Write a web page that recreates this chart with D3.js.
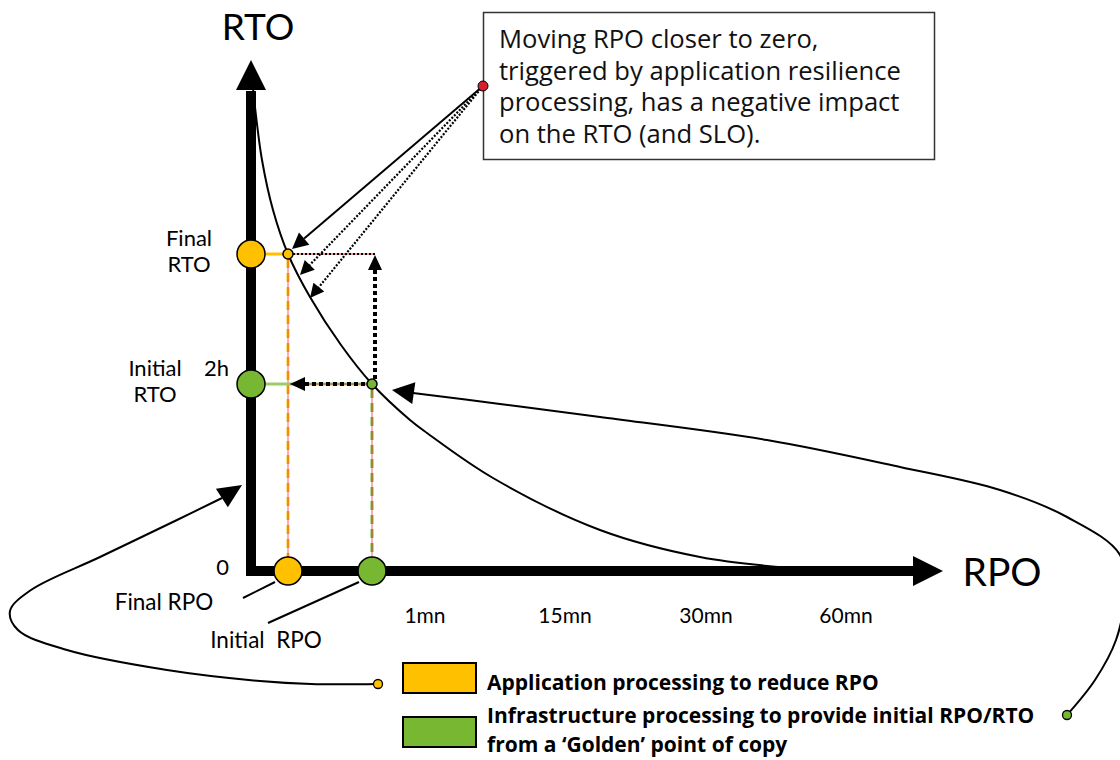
<!DOCTYPE html>
<html><head><meta charset="utf-8">
<script src="https://cdn.jsdelivr.net/npm/d3@7"></script>
<style>body{margin:0;background:#fff} svg{display:block}</style>
</head><body><svg id="c" width="1120" height="760"></svg>
<script>
// ---------- data ----------
const rpoTickLabels = ["1mn", "15mn", "30mn", "60mn"];
const rpoTickPos    = [174, 314, 455, 595];
const rtoTickLabels = ["0", "2h"];
const rtoTickPos    = [0, 187];
const stateNames    = ["Final", "Initial"];
const stateRPO      = [37, 121];
const stateRTO      = [317, 187];
const stateColors   = ["#FFC000", "#77B731"];
const curveX = [2, 4, 11, 22, 37, 59, 90, 121, 159, 176, 242, 349, 449, 539, 580];
const curveY = [483, 464, 411, 361, 317, 274, 226, 187, 151, 138, 93, 41, 14, 3, 1];
const legendLabels = ["Application processing to reduce RPO",
  "Infrastructure processing to provide initial RPO/RTO|from a \u2018Golden\u2019 point of copy"];
const noteLines = ["Moving RPO closer to zero,", "triggered by application resilience",
  "processing, has a negative impact", "on the RTO (and SLO)."];
// annotation connector paths (diagram units)
const leftLinkX  = [127, 60, 9, -84, -184, -233, -241, -220, -151, -74, -29, -9];
const leftLinkY  = [-113, -113, -110, -99, -79, -59, -40, -19, 14, 51, 73, 86];
const rightLinkX = [816, 844, 865, 873, 869, 816, 749, 649, 516, 349, 249, 162, 141];
const rightLinkY = [-144, -109, -69, -29, 16, 54, 81, 104, 131, 154, 167, 178, 181];
const noteDot = [232, 485];
const noteTargetsX = [41, 49, 59];
const noteTargetsY = [322, 296, 273];

// ---------- scales ----------
const x = d3.scaleLinear().domain([0, 700]).range([251, 951]);
const y = d3.scaleLinear().domain([0, 510]).range([571, 61]);

const svg = d3.select("#c");
const axisFont = "Lato, 'DejaVu Sans', sans-serif";
const boxFont = "'Open Sans', 'Noto Sans', sans-serif";
const red = "#E5393F";

function head(tip, from, len, hw) {
  const dx = tip[0] - from[0], dy = tip[1] - from[1];
  const L = Math.hypot(dx, dy), ux = dx / L, uy = dy / L;
  const bx = tip[0] - ux * len, by = tip[1] - uy * len;
  return [[tip[0], tip[1]], [bx - uy * hw, by + ux * hw], [bx + uy * hw, by - ux * hw]];
}
function tri(g, tip, from, len, hw) {
  g.append("polygon").attr("points", head(tip, from, len, hw).map(p => p.join(",")).join(" ")).attr("fill", "#000");
}

// ---------- dashed guide lines ----------
const g = svg.append("g");
stateNames.forEach((n, i) => {
  g.append("line").attr("x1", x(stateRPO[i])).attr("x2", x(stateRPO[i]))
    .attr("y1", y(stateRTO[i]) + 5).attr("y2", y(0) - 5)
    .attr("stroke", stateColors[i]).attr("stroke-width", 3).attr("stroke-dasharray", "9,5");
  g.append("line").attr("x1", x(stateRPO[i])).attr("x2", x(stateRPO[i]))
    .attr("y1", y(stateRTO[i]) + 5).attr("y2", y(0) - 5)
    .attr("stroke", red).attr("stroke-width", 0.8);
});
// Final RTO horizontal
g.append("line").attr("x1", x(0) + 14).attr("x2", x(stateRPO[0]) - 5)
  .attr("y1", y(stateRTO[0])).attr("y2", y(stateRTO[0]))
  .attr("stroke", stateColors[0]).attr("stroke-width", 3);
g.append("line").attr("x1", x(stateRPO[0]) - 5).attr("x2", x(124))
  .attr("y1", y(stateRTO[0])).attr("y2", y(stateRTO[0]))
  .attr("stroke", red).attr("stroke-width", 1);
g.append("line").attr("x1", x(stateRPO[0]) + 5).attr("x2", x(124))
  .attr("y1", y(stateRTO[0])).attr("y2", y(stateRTO[0]))
  .attr("stroke", "#000").attr("stroke-width", 2).attr("stroke-dasharray", "2,2");
// Initial RTO horizontal
g.append("line").attr("x1", x(0) + 14).attr("x2", x(stateRPO[1]) - 5)
  .attr("y1", y(stateRTO[1])).attr("y2", y(stateRTO[1]))
  .attr("stroke", "#9ccc6a").attr("stroke-width", 3);
g.append("line").attr("x1", x(39)).attr("x2", x(stateRPO[1]) - 5)
  .attr("y1", y(stateRTO[1])).attr("y2", y(stateRTO[1]))
  .attr("stroke", red).attr("stroke-width", 0.8);
g.append("line").attr("x1", x(54)).attr("x2", x(stateRPO[1]) - 5)
  .attr("y1", y(stateRTO[1])).attr("y2", y(stateRTO[1]))
  .attr("stroke", "#000").attr("stroke-width", 4).attr("stroke-dasharray", "4,3");
tri(g, [x(39), y(stateRTO[1])], [x(60), y(stateRTO[1])], 15, 7);
// vertical dotted arrow up
g.append("line").attr("x1", x(124)).attr("x2", x(124))
  .attr("y1", y(stateRTO[1]) - 5).attr("y2", y(stateRTO[0]) + 14)
  .attr("stroke", "#000").attr("stroke-width", 4).attr("stroke-dasharray", "4,3");
tri(g, [x(124), y(stateRTO[0]) + 1], [x(124), y(stateRTO[1])], 15, 7);

// ---------- trade-off curve ----------
const curvePts = curveX.map((v, i) => [x(v), y(curveY[i])]);
svg.append("path").attr("d", d3.line().curve(d3.curveCatmullRom.alpha(0.5))(curvePts))
  .attr("fill", "none").attr("stroke", "#000").attr("stroke-width", 2);

// ---------- axes ----------
const ax = svg.append("g");
ax.append("line").attr("x1", x(0)).attr("x2", x(0)).attr("y1", y(0) + 5).attr("y2", y(480))
  .attr("stroke", "#000").attr("stroke-width", 10);
tri(ax, [x(0), y(511)], [x(0), y(0)], 30, 15);
ax.append("line").attr("x1", x(0) - 5).attr("x2", x(664)).attr("y1", y(0)).attr("y2", y(0))
  .attr("stroke", "#000").attr("stroke-width", 10);
tri(ax, [x(692), y(0)], [x(0), y(0)], 30, 15);
ax.append("text").attr("x", x(7)).attr("y", 40).attr("text-anchor", "middle")
  .attr("font-family", axisFont).attr("font-size", 37).attr("font-weight", 400).text("RTO");
ax.append("text").attr("x", x(751)).attr("y", 586).attr("text-anchor", "middle")
  .attr("font-family", axisFont).attr("font-size", 39).attr("font-weight", 400).text("RPO");

// tick labels
ax.selectAll("text.xt").data(rpoTickLabels).join("text").attr("class", "xt")
  .attr("x", (d, i) => x(rpoTickPos[i])).attr("y", y(0) + 52).attr("text-anchor", "middle")
  .attr("font-family", axisFont).attr("font-size", 21).attr("font-weight", 400).text(d => d);
ax.selectAll("text.yt").data(rtoTickLabels).join("text").attr("class", "yt")
  .attr("x", x(0) - 22).attr("y", (d, i) => y(rtoTickPos[i]) - 8 + (i === 0 ? 12 : 0))
  .attr("text-anchor", "end")
  .attr("font-family", axisFont).attr("font-size", 22).attr("font-weight", 400).text(d => d);

// RTO state labels
const rtoLabelX = [189, 155];
stateNames.forEach((n, i) => {
  const t = ax.append("text").attr("text-anchor", "middle")
    .attr("font-family", axisFont).attr("font-size", 22).attr("font-weight", 400);
  t.append("tspan").attr("x", rtoLabelX[i]).attr("y", y(stateRTO[i]) - 8).text(n);
  t.append("tspan").attr("x", rtoLabelX[i]).attr("y", y(stateRTO[i]) + 18).text("RTO");
});
// RPO state labels + leader lines
const rpoLabelX = [164, 266], rpoLabelY = [610, 648];
const leaderEnd = [[-8, -27], [17, -52]];
stateNames.forEach((n, i) => {
  ax.append("line").attr("x1", x(stateRPO[i]) - 13).attr("y1", y(-11))
    .attr("x2", x(leaderEnd[i][0])).attr("y2", y(leaderEnd[i][1]))
    .attr("stroke", "#000").attr("stroke-width", 2);
  ax.append("text").attr("x", rpoLabelX[i]).attr("y", rpoLabelY[i]).attr("text-anchor", "middle")
    .attr("font-family", axisFont).attr("font-size", 22.5).attr("font-weight", 400)
    .attr("xml:space", "preserve").text(i === 0 ? "Final RPO" : "Initial  RPO");
});

// ---------- state circles ----------
stateNames.forEach((n, i) => {
  svg.append("circle").attr("cx", x(0)).attr("cy", y(stateRTO[i])).attr("r", 14)
    .attr("fill", stateColors[i]).attr("stroke", "#000").attr("stroke-width", 1.5);
  svg.append("circle").attr("cx", x(stateRPO[i])).attr("cy", y(0)).attr("r", 14)
    .attr("fill", stateColors[i]).attr("stroke", "#000").attr("stroke-width", 1.5);
  svg.append("circle").attr("cx", x(stateRPO[i])).attr("cy", y(stateRTO[i])).attr("r", 5)
    .attr("fill", stateColors[i]).attr("stroke", "#000").attr("stroke-width", 1.5);
});

// ---------- note box and its arrows ----------
const nb = svg.append("g");
const dot = [x(noteDot[0]), y(noteDot[1])];
noteTargetsX.forEach((tx, i) => {
  const tip = [x(tx), y(noteTargetsY[i])];
  const h = head(tip, dot, i === 0 ? 16 : 14, i === 0 ? 8 : 7);
  const base = [(h[1][0] + h[2][0]) / 2, (h[1][1] + h[2][1]) / 2];
  nb.append("line").attr("x1", dot[0]).attr("y1", dot[1]).attr("x2", base[0]).attr("y2", base[1])
    .attr("stroke", "#000").attr("stroke-width", i === 0 ? 2 : 2.2)
    .attr("stroke-dasharray", i === 0 ? null : "2,1.6");
  tri(nb, tip, dot, i === 0 ? 16 : 14, i === 0 ? 8 : 7);
});
nb.append("rect").attr("x", 483.5).attr("y", 12.5).attr("width", 451).attr("height", 147)
  .attr("fill", "#fff").attr("stroke", "#333").attr("stroke-width", 1.5);
nb.selectAll("text.nl").data(noteLines).join("text").attr("class", "nl")
  .attr("x", 499).attr("y", (d, i) => 48 + i * 31.6)
  .attr("font-family", boxFont).attr("font-size", 25.6).attr("fill", "#111").text(d => d);
nb.append("circle").attr("cx", dot[0]).attr("cy", dot[1]).attr("r", 5)
  .attr("fill", "#D7202C").attr("stroke", "#000").attr("stroke-width", 1);

// ---------- legend connectors ----------
const link = d3.line().curve(d3.curveCatmullRom.alpha(0.5));
function connector(xs, ys, len, hw) {
  const pts = xs.map((v, i) => [x(v), y(ys[i])]);
  const tip = pts[pts.length - 1], prev = pts[pts.length - 2];
  svg.append("path").attr("d", link(pts.slice(0, -1)))
    .attr("fill", "none").attr("stroke", "#000").attr("stroke-width", 2);
  tri(svg, tip, prev, len, hw);
}
connector(leftLinkX, leftLinkY, 24, 11);
connector(rightLinkX, rightLinkY, 22, 11);

// ---------- legend ----------
const lg = svg.append("g");
const legendTop = [663, 717];
const linkDots = [[x(leftLinkX[0]), y(leftLinkY[0])], [x(rightLinkX[0]), y(rightLinkY[0])]];
legendLabels.forEach((lab, i) => {
  lg.append("rect").attr("x", 403).attr("y", legendTop[i]).attr("width", 73).attr("height", 30)
    .attr("fill", stateColors[i]).attr("stroke", "#000").attr("stroke-width", 2);
  const lines = lab.split("|");
  lines.forEach((l, j) => lg.append("text").attr("font-family", boxFont).attr("font-weight", 700)
    .attr("font-size", 21).attr("fill", "#000").attr("x", 487)
    .attr("y", (i === 0 ? 690 : 723) + j * 29).text(l));
  lg.append("circle").attr("cx", linkDots[i][0]).attr("cy", linkDots[i][1]).attr("r", 4.5)
    .attr("fill", stateColors[i]).attr("stroke", "#000").attr("stroke-width", 1.3);
});
</script></body></html>
